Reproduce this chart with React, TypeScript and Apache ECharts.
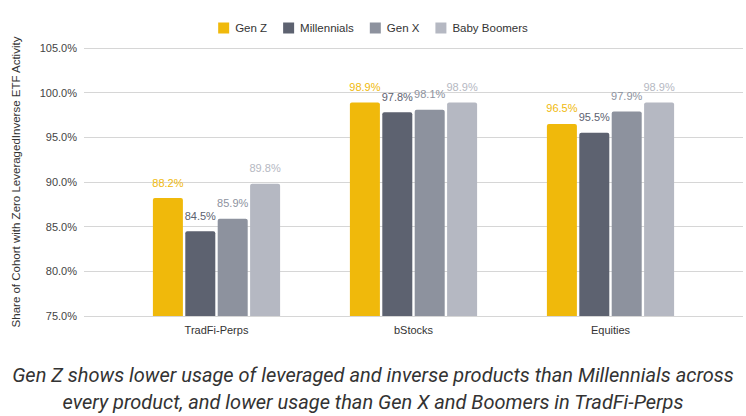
import React, { useEffect, useRef } from 'react';
import * as echarts from 'echarts';

const products = ['TradFi-Perps', 'bStocks', 'Equities'];
const cohorts = ['Gen Z', 'Millennials', 'Gen X', 'Baby Boomers'];
const genZ = [88.2, 98.9, 96.5];
const millennials = [84.5, 97.8, 95.5];
const genX = [85.9, 98.1, 97.9];
const boomers = [89.8, 98.9, 98.9];
const cohortColors = ['#F0B90B', '#5D6270', '#8D929E', '#B5B8C2'];
const yMin = 75;
const yMax = 105;
const yStep = 5;

const caption =
    'Gen Z shows lower usage of leveraged and inverse products than Millennials across\nevery product, and lower usage than Gen X and Boomers in TradFi-Perps';

export default function App() {
    const chartRef = useRef<HTMLDivElement>(null);

    useEffect(() => {
        if (!chartRef.current) return;
        document.body.style.margin = '0';
        const myChart = echarts.init(chartRef.current, null, { renderer: 'svg' });

        const seriesData = [genZ, millennials, genX, boomers];
        const font = 'Liberation Sans, Arial, sans-serif';

        const option = {
            animation: false,
            textStyle: { fontFamily: font },
            title: {
                text: caption,
                left: 'center',
                top: 361,
                padding: 0,
                textStyle: {
                    fontFamily: 'Roboto, sans-serif',
                    fontStyle: 'italic',
                    fontWeight: 'normal',
                    fontSize: 20,
                    lineHeight: 27,
                    color: '#333333',
                },
            },
            legend: {
                data: cohorts,
                top: 17,
                left: 'center',
                icon: 'rect',
                itemWidth: 11,
                itemHeight: 11,
                itemGap: 16,
                textStyle: { fontSize: 11.5, color: '#333', padding: [0, 0, 0, 1] },
            },
            grid: [
                { left: 84, right: 3, top: 48, bottom: 100 },
                { left: 118, right: 37, top: 48, bottom: 100 },
            ],
            xAxis: [
                { type: 'category', gridIndex: 0, data: products, show: false },
                {
                    type: 'category',
                    gridIndex: 1,
                    data: products,
                    axisLine: { show: false },
                    axisTick: { show: false },
                    axisLabel: { fontSize: 11, color: '#333', margin: 8 },
                },
            ],
            yAxis: [
                {
                    type: 'value',
                    gridIndex: 0,
                    min: yMin,
                    max: yMax,
                    interval: yStep,
                    name: 'Share of Cohort with Zero LeveragedInverse ETF Activity',
                    nameLocation: 'middle',
                    nameGap: 62,
                    nameTextStyle: { fontSize: 11.5, color: '#333' },
                    axisLine: { show: false },
                    axisTick: { show: false },
                    axisLabel: {
                        fontSize: 11,
                        color: '#444',
                        margin: 7,
                        formatter: (v: number) => v.toFixed(1) + '%',
                    },
                    splitLine: { lineStyle: { color: '#d6d6d6', width: 1 } },
                },
                {
                    type: 'value',
                    gridIndex: 1,
                    min: yMin,
                    max: yMax,
                    interval: yStep,
                    show: false,
                    splitLine: { show: false },
                },
            ],
            series: cohorts.map((name, i) => ({
                name,
                type: 'bar',
                xAxisIndex: 1,
                yAxisIndex: 1,
                data: seriesData[i],
                barWidth: 30,
                barGap: '8%',
                itemStyle: { color: cohortColors[i], borderRadius: [2, 2, 0, 0] },
                label: {
                    show: true,
                    position: 'top',
                    distance: 10,
                    fontSize: 11,
                    color: cohortColors[i],
                    formatter: (p: { value: number }) => p.value.toFixed(1) + '%',
                },
            })),
        };

        myChart.setOption(option);

        return () => {
            myChart.dispose();
        };
    }, []);

    return <div ref={chartRef} style={{ width: '746px', height: '416px' }} />;
}
